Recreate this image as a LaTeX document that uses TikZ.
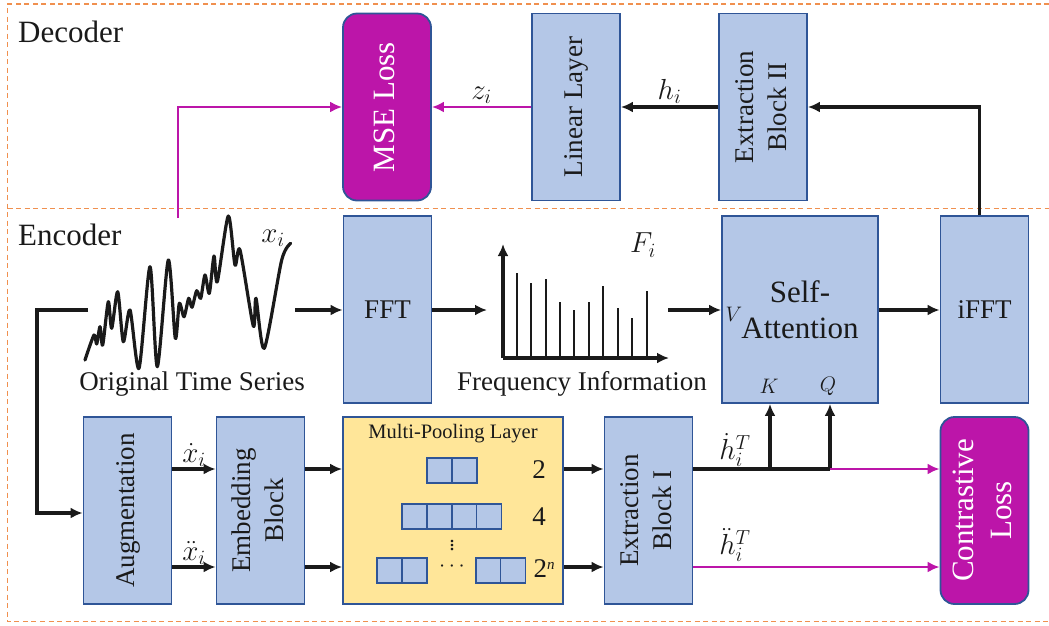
\RequirePackage{fix-cm}
\documentclass[tikz,border=0pt]{standalone}
\usepackage{fontspec}
\setmainfont{Liberation Serif}
\usepackage{graphicx}
\usetikzlibrary{arrows.meta}

\definecolor{boxblue}{HTML}{B4C7E7}
\definecolor{edgeblue}{HTML}{2F5597}
\definecolor{lossmag}{HTML}{BC15A9}
\definecolor{frameorange}{HTML}{F0904F}
\definecolor{poolyellow}{HTML}{FFE699}
\definecolor{ink}{HTML}{1A1A1A}

\newcommand\vtext[1]{\rotatebox{90}{\begin{tabular}{@{}c@{}}#1\end{tabular}}}

\tikzset{
  x=1pt, y=-1pt,
  blk/.style={draw=edgeblue, fill=boxblue, line width=1.8pt, inner sep=0pt,
    minimum width=88pt, minimum height=187pt, align=center, text=ink,
    font=\fontsize{27}{33}\selectfont},
  lossblk/.style={blk, fill=lossmag, text=white, rounded corners=14pt,
    font=\fontsize{31}{38}\selectfont},
  poolblk/.style={blk, fill=poolyellow, minimum width=220pt},
  cell/.style={draw=edgeblue, fill=boxblue, line width=1.6pt, inner sep=0pt,
    minimum width=25pt, minimum height=25pt},
  frame/.style={draw=frameorange, line width=1.6pt, dash pattern=on 5pt off 3.5pt},
  arr/.style={draw=ink, line width=3.2pt, -{Latex[length=12pt,width=11pt]}},
  plain/.style={draw=ink, line width=3.2pt},
  magarr/.style={draw=lossmag, line width=2.8pt, -{Latex[length=12pt,width=11pt]}},
  lbl/.style={text=ink, inner sep=1pt, font=\fontsize{29}{32}\selectfont},
  caption/.style={text=ink, inner sep=0pt, font=\fontsize{27}{32}\selectfont},
  section/.style={text=ink, inner sep=0pt, anchor=base west, font=\fontsize{31}{36}\selectfont},
  port/.style={text=ink, inner sep=0pt, font=\fontsize{21}{24}\selectfont},
}

\begin{document}
\begin{tikzpicture}
\useasboundingbox (0,0) rectangle (1049,625);

% dashed section frames (open to the right)
\draw[frame] (1049,4) -- (7.5,4) -- (7.5,621.5) -- (1049,621.5);
\draw[frame] (7.5,208.5) -- (1049,208.5);
\node[section] (declbl) at (18,42) {Decoder};
\node[section] (enclbl) at (18,245) {Encoder};

% decoder blocks
\node[lossblk] (mse) at (387,107) {\vtext{MSE Loss}};
\node[blk] (lin) at (576,107) {\vtext{Linear Layer}};
\node[blk] (ext2) at (763,107) {\vtext{Extraction\\Block II}};

% encoder, frequency path
\node[blk] (fft) at (387.5,309.5) {FFT};
\node[blk, minimum width=156pt, font=\fontsize{31}{36}\selectfont] (sa) at (800,309.5) {Self-\\Attention};
\node[blk] (ifft) at (984.5,309.5) {iFFT};

% encoder, contrastive path
\node[blk] (aug) at (127.5,510.5) {\vtext{Augmentation}};
\node[blk] (emb) at (260.5,510.5) {\vtext{Embedding\\Block}};
\node[poolblk] (pool) at (453,510.5) {};
\node[blk] (ext1) at (648.5,510.5) {\vtext{Extraction\\Block I}};
\node[lossblk] (con) at (984.5,510.5) {\vtext{Contrastive\\Loss}};

% multi-pooling contents
\node[text=ink, inner sep=0pt, font=\fontsize{20.5}{24}\selectfont] (pooltitle) at (453,434) {Multi-Pooling Layer};
\node[cell] (c1a) at (439.5,470.5) {};
\node[cell] (c1b) at (464.5,470.5) {};
\node[cell] (c2a) at (414.5,516.5) {};
\node[cell] (c2b) at (439.5,516.5) {};
\node[cell] (c2c) at (464.5,516.5) {};
\node[cell] (c2d) at (489,516.5) {};
\node[cell] (c3a) at (389.5,570.5) {};
\node[cell] (c3b) at (414.5,570.5) {};
\node[cell] (c3c) at (488.5,570.5) {};
\node[cell] (c3d) at (513,570.5) {};
\node[text=ink, inner sep=0pt, font=\fontsize{22}{24}\selectfont] (vd) at (452,542) {$\vdots$};
\node[text=ink, inner sep=0pt, font=\fontsize{22}{24}\selectfont] (hd) at (452,567) {$\cdots$};
\node[caption] (p2) at (539,470) {2};
\node[caption] (p4) at (539,517) {4};
\node[caption] (pn) at (544,569) {2\raisebox{8pt}{\fontsize{15}{16}\selectfont\itshape n}};

% original time series
\draw[ink, line width=3.2pt, line join=round, line cap=round]
  plot[smooth, tension=0.45] coordinates {
   (85,360) (94,335) (96.7,344) (100,326.7) (102.7,345) (108.3,301.7)
   (111.7,328.3) (117.7,291.7) (123.3,341.7) (130,310) (139,368.3)
   (150,266.7) (157.3,366.7) (168.3,260) (175.3,338.3) (179.3,303.3)
   (184,316.7) (188.7,298.3) (192,307.3) (196.7,290.7) (200.7,298.3)
   (205,275) (209.3,293.3) (214,256) (217.3,281.7) (228.3,216) (235,265)
   (240,250) (253.3,326) (256,298.3) (264.3,348.3) (281.7,260) (290.7,243.3)};
\node[lbl] (xi) at (273,238) {$x_i$};
\node[caption] (tscap) at (192,384) {Original Time Series};

% frequency spectrum
\coordinate (orig) at (503,358);
\draw[arr] (orig) -- (503,244);
\draw[arr] (orig) -- (669,358);
\foreach \bx/\by in {517/273, 531/283, 546/279, 560/302, 574/310, 589/302, 603/286, 618/308, 632/318, 647/291}
  \draw[ink, line width=2.8pt] (\bx,358) -- (\bx,\by);
\node[lbl] (fi) at (643,245) {$F_i$};
\node[caption] (fqcap) at (582,384) {Frequency Information};

% encoder main row
\coordinate (tsout) at (295,310);
\coordinate (spin) at (487,310);
\coordinate (spout) at (668,310);
\draw[arr] (tsout) -- (fft.west |- tsout);
\draw[arr] (fft.east |- tsout) -- (spin);
\draw[arr] (spout) -- (sa.west |- spout);
\draw[arr] (sa.east |- spout) -- (ifft.west |- spout);
\node[port] (vlbl) at (734,314) {$V$};
\node[port] (klbl) at (769,386) {$K$};
\node[port] (qlbl) at (828,386) {$Q$};

% feed into augmentation
\coordinate (tsin) at (88,310);
\draw[arr] (tsin) -- (37,310) |- (aug.west |- 0,513);

% two augmented views
\coordinate (ya) at (0,469);
\coordinate (yb) at (0,567);
\draw[arr] (aug.east |- ya) -- node[lbl, above=0pt] {$\dot{x}_i$} (emb.west |- ya);
\draw[arr] (aug.east |- yb) -- node[lbl, above=0pt] {$\ddot{x}_i$} (emb.west |- yb);
\draw[arr] (emb.east |- ya) -- (pool.west |- ya);
\draw[arr] (emb.east |- yb) -- (pool.west |- yb);
\draw[arr] (pool.east |- ya) -- (ext1.west |- ya);
\draw[arr] (pool.east |- yb) -- (ext1.west |- yb);

% representations to attention and contrastive loss
\coordinate (kx) at (770,469);
\coordinate (qx) at (830,469);
\draw[plain] (ext1.east |- ya) -- (qx);
\draw[arr] (kx) -- (kx |- sa.south);
\draw[arr] (qx) -- (qx |- sa.south);
\draw[magarr] (qx) -- (con.west |- ya);
\draw[magarr] (ext1.east |- yb) -- (con.west |- yb);
\node[lbl] (h1) at (735,450) {$\dot{h}_i^{T}$};
\node[lbl] (h2) at (735,545) {$\ddot{h}_i^{T}$};

% decoder path
\draw[arr] ([xshift=-5pt]ifft.north) |- (ext2.east);
\draw[arr] (ext2.west) -- node[lbl, above=1pt] {$h_i$} (lin.east);
\draw[magarr] (lin.west) -- node[lbl, above=1pt] {$z_i$} (mse.east);
\coordinate (recon) at (178,218);
\draw[magarr] (recon) |- (mse.west);
\end{tikzpicture}
\end{document}
